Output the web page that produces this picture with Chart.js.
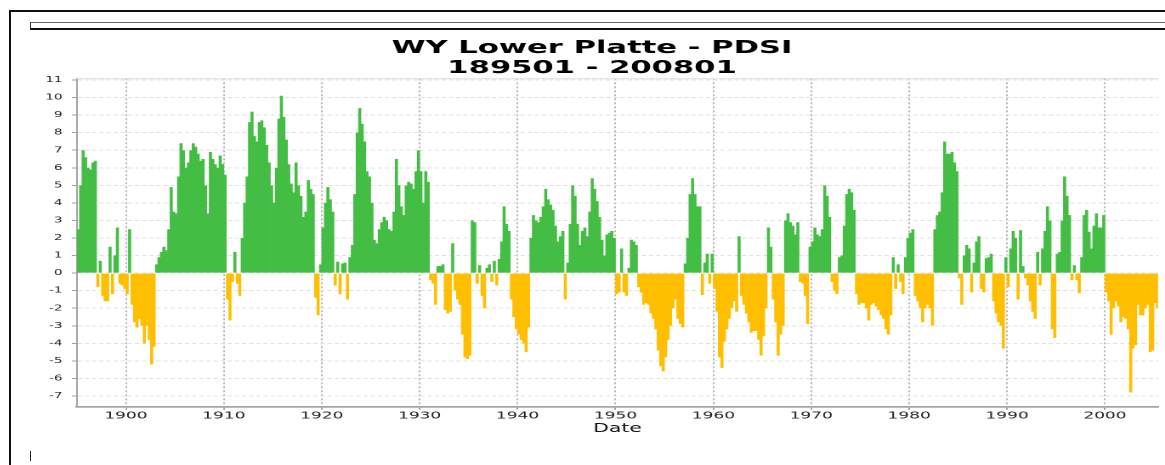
<!DOCTYPE html>
<html>
<head>
<meta charset="utf-8">
<title>WY Lower Platte - PDSI</title>
<script src="https://cdn.jsdelivr.net/npm/chart.js@4.4.1/dist/chart.umd.min.js"></script>
<style>
    html, body { margin: 0; padding: 0; background: #fff; overflow: hidden; width: 1165px; height: 465px; }
    .frame-top { position: absolute; left: 9px; top: 10px; right: 0; height: 2px; background: #111; }
    .frame-left { position: absolute; left: 9px; top: 10px; bottom: 0; width: 2px; background: #111; }
    .toolbar { position: absolute; left: 30px; top: 22px; right: 0; height: 5px; border-top: 1px solid #666; border-left: 1px solid #333; border-bottom: 2px solid #111; }
    .caret { position: absolute; left: 30px; top: 451px; width: 1px; height: 10px; background: #222; }
    /* the source image is stretched sideways, so the whole chart is too */
    #wrap { position: absolute; left: 26px; top: 30px; width: 672px; height: 406px; transform: scaleX(1.7); transform-origin: 0 0; }
</style>
</head>
<body>
<div class="frame-top"></div>
<div class="frame-left"></div>
<div class="toolbar"></div>
<div class="caret"></div>
<div id="wrap"><canvas id="pdsi-chart" width="672" height="406"></canvas></div>
<script>
// quarterly PDSI, one row per year starting 1895
var firstYear = 1895;
var perYear = 4;
var pdsi = [
    2.5, 5.0, 7.0, 6.6,      // 1895
    6.0, 5.9, 6.3, 6.4,
    -0.8, 0.7, -1.3, -1.6,
    -1.6, 1.5, -1.2, 1.0,
    2.6, -0.6, -0.7, -0.9,
    -1.2, 2.5, -1.8, -2.8,   // 1900
    -3.1, -2.6, -3.0, -4.0,
    -3.0, -3.8, -5.2, -4.2,
    0.5, 0.9, 1.2, 1.5,
    1.3, 2.5, 4.9, 3.5,
    3.4, 5.5, 7.4, 7.0,      // 1905
    6.0, 6.3, 7.0, 7.4,
    7.2, 6.8, 6.4, 6.5,
    5.0, 3.4, 6.9, 6.5,
    6.2, 6.0, 6.7, 6.2,
    5.6, -1.5, -2.7, -0.5,   // 1910
    1.2, -0.6, -1.3, 2.0,
    4.0, 5.5, 8.6, 9.2,
    7.8, 7.5, 8.6, 8.7,
    8.3, 7.3, 6.3, 5.0,
    4.0, 6.0, 8.8, 10.1,     // 1915
    8.9, 7.6, 6.2, 5.1,
    4.6, 6.3, 5.0, 4.4,
    3.2, 3.5, 5.3, 4.8,
    4.5, -1.4, -2.4, 0.5,
    2.6, 4.0, 4.9, 4.2,      // 1920
    3.5, -0.7, 0.65, -1.2,
    0.55, 0.6, -1.5, 0.9,
    1.6, 4.5, 8.0, 9.4,
    8.5, 7.5, 5.8, 5.5,
    4.0, 1.9, 1.7, 2.5,      // 1925
    2.9, 3.2, 3.0, 2.5,
    2.4, 3.5, 6.5, 5.0,
    3.8, 3.3, 5.0, 5.2,
    5.1, 4.8, 5.8, 7.0,
    5.8, 4.0, 5.8, 5.2,      // 1930
    -0.4, -0.6, -1.8, 0.4,
    0.4, 0.5, -2.1, -2.3,
    -2.2, 1.7, -1.0, -1.5,
    -1.8, -3.5, -4.8, -4.9,
    -4.7, 3.0, 2.9, -0.6,    // 1935
    0.45, -1.3, -2.0, 0.3,
    0.5, -0.5, 0.7, -0.7,
    0.8, 1.8, 3.8, 2.8,
    2.4, -1.5, -2.5, -3.2,
    -3.5, -3.8, -4.0, -4.5,  // 1940
    -3.1, 2.0, 3.3, 3.0,
    2.9, 3.2, 3.8, 4.8,
    4.2, 3.9, 3.6, 2.7,
    1.8, 2.1, 2.4, -1.5,
    0.6, 2.8, 5.0, 4.4,      // 1945
    2.8, 1.6, 2.4, 2.6,
    2.1, 3.5, 5.4, 4.8,
    4.1, 3.2, 1.9, 1.0,
    2.2, 2.3, 2.4, 2.0,
    -1.2, -1.1, 1.4, -1.1,   // 1950
    -1.3, 0.3, 1.9, 1.8,
    1.6, -0.8, -1.1, -1.8,
    -1.7, -1.8, -2.3, -2.6,
    -3.2, -4.4, -5.3, -5.6,
    -4.8, -3.8, -3.0, -2.0,  // 1955
    -1.5, -2.6, -2.9, -3.1,
    0.55, 2.0, 4.5, 5.4,
    4.5, 3.8, 3.8, -1.25,
    0.6, 1.1, -0.6, 1.1,
    -0.9, -2.2, -4.8, -5.4,  // 1960
    -3.9, -3.2, -2.6, -2.0,
    -1.6, -2.2, 2.1, -1.3,
    -1.8, -2.3, -2.8, -3.4,
    -3.3, -3.3, -3.8, -4.7,
    -3.6, -2.0, 2.6, 1.5,    // 1965
    -1.5, -2.8, -4.7, -3.5,
    -3.0, 3.0, 3.4, 2.9,
    2.7, 2.2, 2.9, -0.5,
    -0.6, -1.3, -2.9, 1.5,
    1.8, 2.6, 2.2, 2.1,      // 1970
    2.5, 5.0, 4.4, 3.2,
    -0.5, -1.0, -1.2, 0.9,
    1.0, 2.7, 4.5, 4.8,
    4.6, 3.6, -1.2, -1.8,
    -1.7, -1.7, -2.0, -2.7,  // 1975
    -1.8, -1.7, -1.9, -2.1,
    -2.4, -2.6, -3.2, -3.5,
    -2.4, 0.9, -0.9, 0.5,
    -0.5, -1.2, 0.9, 2.0,
    2.3, 2.5, -1.3, -1.6,    // 1980
    -2.0, -2.8, -2.0, -1.8,
    -2.0, -3.0, 2.5, 3.3,
    3.5, 4.6, 7.5, 6.8,
    6.8, 6.9, 6.3, 5.8,
    -0.3, -1.8, 1.0, 1.6,    // 1985
    1.4, -1.1, 0.6, 1.8,
    2.1, -0.9, -1.1, 0.85,
    0.9, 1.1, -1.6, -2.3,
    -2.8, -3.0, -4.3, 0.9,
    -0.8, 1.4, 2.4, 2.0,     // 1990
    -1.5, 2.45, 0.4, -0.3,
    -0.7, -1.6, -2.2, -2.6,
    1.2, -0.7, 1.4, 2.4,
    3.8, 3.0, -3.2, -3.7,
    1.1, 1.2, 3.0, 5.5,      // 1995
    4.4, 3.3, -0.4, 0.45,
    -0.4, -1.15, 0.9, 3.3,
    3.6, 2.35, 1.4, 2.7,
    3.4, 2.6, 2.6, 3.3,
    -1.1, -1.6, -3.5, -2.0,  // 2000
    -1.6, -1.9, -2.8, -2.5,
    -2.6, -3.2, -6.8, -4.3,
    -4.1, -1.8, -2.4, -2.4,
    -2.0, -1.8, -4.5, -4.4,
    -1.7, -2.0               // 2005
];
var xTicks = [1900, 1910, 1920, 1930, 1940, 1950, 1960, 1970, 1980, 1990, 2000];
var yTicks = [-7, -6, -5, -4, -3, -2, -1, 0, 1, 2, 3, 4, 5, 6, 7, 8, 9, 10, 11];
var titleLines = ['WY Lower Platte - PDSI', '189501 - 200801'];
var xTitle = 'Date';

(function () {
    'use strict';

    var WET = '#44bd44';
    var DRY = '#ffbf00';
    var FONT = "'DejaVu Sans', 'Liberation Sans', sans-serif";

    function points() {
        return pdsi.map(function (v, i) {
            return { x: firstYear + (i + 0.5) / perYear, y: v };
        });
    }

    function fixedTicks(list) {
        return function (scale) {
            scale.ticks = list.map(function (v) {
                return { value: v };
            });
        };
    }

    // faint line along the top of the plot, like the original outline
    var plotOutline = {
        id: 'plotOutline',
        beforeDatasetsDraw: function (chart) {
            var a = chart.chartArea;
            var ctx = chart.ctx;
            ctx.save();
            ctx.strokeStyle = '#dedede';
            ctx.lineWidth = 1;
            ctx.beginPath();
            ctx.moveTo(a.left, a.top + 0.5);
            ctx.lineTo(a.right, a.top + 0.5);
            ctx.stroke();
            ctx.restore();
        }
    };

    function init() {
        var canvas = document.getElementById('pdsi-chart');
        new Chart(canvas.getContext('2d'), {
            type: 'bar',
            data: {
                datasets: [{
                    label: 'PDSI',
                    data: points(),
                    backgroundColor: function (c) {
                        return c.raw && c.raw.y < 0 ? DRY : WET;
                    },
                    borderWidth: 0,
                    barPercentage: 1.25,
                    categoryPercentage: 1
                }]
            },
            plugins: [plotOutline],
            options: {
                responsive: false,
                animation: false,
                devicePixelRatio: 2,
                layout: { padding: { left: 0, right: 6.1, top: 0, bottom: 0 } },
                plugins: {
                    legend: { display: false },
                    tooltip: { enabled: false },
                    title: {
                        display: true,
                        text: titleLines,
                        color: '#000',
                        font: { family: FONT, size: 18, weight: 'bold', lineHeight: 1.111 },
                        padding: { top: 8.3, bottom: 0 }
                    }
                },
                scales: {
                    x: {
                        type: 'linear',
                        min: 1895,
                        max: 2005.42,
                        offset: false,
                        afterBuildTicks: fixedTicks(xTicks),
                        afterFit: function (s) { s.height = 29.3; },
                        grid: {
                            offset: false,
                            color: '#b8b8b8',
                            lineWidth: 1,
                            tickLength: 3,
                            tickColor: '#a0a0a0'
                        },
                        border: { display: true, color: '#a4a4a4', width: 1.7, dash: [2, 2] },
                        ticks: {
                            color: '#222',
                            padding: 0,
                            maxRotation: 0,
                            autoSkip: false,
                            font: { family: FONT, size: 10 },
                            callback: function (v) { return String(v); }
                        },
                        title: {
                            display: true,
                            text: xTitle,
                            color: '#111',
                            font: { family: FONT, size: 12 },
                            padding: { top: 0, bottom: 0 }
                        }
                    },
                    y: {
                        min: -7.61,
                        max: 11.097,
                        afterBuildTicks: fixedTicks(yTicks),
                        afterFit: function (s) { s.width = 30; },
                        grid: {
                            color: '#e0e0e0',
                            lineWidth: 1,
                            tickLength: 3,
                            tickColor: '#a0a0a0'
                        },
                        border: { display: true, color: '#a4a4a4', width: 1, dash: [2.4, 1.8] },
                        ticks: {
                            color: '#222',
                            padding: 5.5,
                            autoSkip: false,
                            font: { family: FONT, size: 8 }
                        }
                    }
                }
            }
        });
    }

    if (document.readyState === 'loading') {
        document.addEventListener('DOMContentLoaded', init);
    } else {
        init();
    }
})();
</script>
</body>
</html>
